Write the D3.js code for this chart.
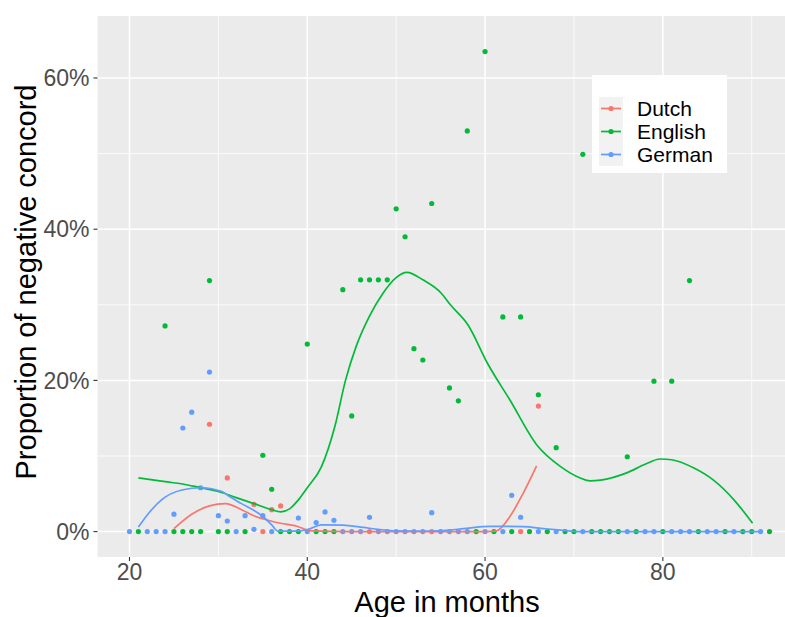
<!DOCTYPE html>
<html>
<head>
<meta charset="utf-8">
<script src="https://cdn.jsdelivr.net/npm/d3@7"></script>
<style>
  body { margin: 0; background: #fff; }
  text { font-family: "Liberation Sans", Arial, sans-serif; }
</style>
</head>
<body>
<div id="chart"></div>
<script>
// observed proportions (month, percent) - only the non-zero ones
const dutchPoints = [[29, 14.2], [31, 7.1], [34, 3.6], [36, 2.9], [37, 3.4], [66, 16.6]];
const englishPoints = [[24, 27.2], [29, 33.2], [35, 10.1], [36, 5.6], [40, 24.8], [44, 32.0], [45, 15.3],
    [46, 33.3], [47, 33.3], [48, 33.3], [49, 33.3], [50, 42.7], [51, 39.0], [52, 24.2], [53, 22.7],
    [54, 43.4], [56, 19.0], [57, 17.3], [58, 53.0], [60, 63.5], [62, 28.4], [64, 28.4], [66, 18.1],
    [68, 11.1], [71, 49.9], [76, 9.9], [79, 19.9], [81, 19.9], [83, 33.2]];
const germanPoints = [[25, 2.3], [26, 13.7], [27, 15.8], [28, 5.8], [29, 21.1], [30, 2.1], [31, 1.4],
    [33, 2.1], [34, 0.3], [35, 2.1], [39, 1.8], [41, 1.2], [42, 2.6], [43, 1.5], [47, 1.9], [54, 2.5],
    [63, 4.8], [64, 1.9]];

// months with 0% (the ones visible on top)
const dutchZeros = [35, 47, 54, 64];
const englishZeros = [21, 25, 26, 27, 28, 30, 31, 33, 37, 38, 39, 41, 42, 43, 59, 61, 63, 65, 67, 69, 70,
    72, 73, 74, 75, 77, 80, 84, 87, 89, 90, 92];
const germanZeros = [20, 22, 23, 24, 32, 36, 40, 44, 45, 46, 48, 49, 50, 51, 52, 53, 55, 56, 57, 58, 60,
    62, 66, 68, 71, 76, 78, 79, 81, 82, 83, 85, 86, 88, 91];

// loess smooth
const dutchSmooth = [[25, 0.4], [27, 2.3], [29, 3.4], [30.8, 3.7], [32.6, 2.9], [34, 2.1], [35.6, 1.5],
    [37, 1.1], [38.6, 0.8], [40.5, 0.1], [45, 0], [50, 0], [55, 0], [60, 0], [61.3, 0.1], [62.8, 2.0],
    [64.3, 5.1], [65.8, 8.7]];
const englishSmooth = [[21, 7.1], [24, 6.6], [26, 6.3], [28, 5.8], [30, 5.3], [32, 4.5], [34, 3.7],
    [36, 2.9], [37, 2.6], [38, 3.0], [39, 4.2], [40, 5.8], [41.6, 8.6], [43.1, 13.9], [44.3, 20],
    [45.5, 24.5], [47, 28.5], [48.5, 31.5], [50, 33.6], [51.2, 34.3], [53, 33.3], [55.1, 31.5], [56.1, 30],
    [58.1, 27.3], [60.3, 22.2], [62.8, 17.4], [65.8, 11.5], [68.5, 8.6], [70.7, 7.1], [71.8, 6.7],
    [73, 6.8], [76, 7.8], [78, 8.9], [79.7, 9.6], [81, 9.5], [83.5, 8.4], [85.7, 6.8], [88, 4.2], [90.1, 1.1]];
const germanSmooth = [[21, 0.6], [22, 2.2], [23.6, 4.2], [25.9, 5.5], [28.1, 5.8], [30.4, 5.3],
    [31.3, 4.6], [32.6, 3.7], [35, 2.0], [36, 0.9], [36.7, 0.05], [38.5, 0.05], [40.1, 0.3], [41.6, 0.9],
    [44, 0.85], [46.3, 0.55], [48, 0.3], [50.1, 0.1], [53.5, 0.05], [56, 0.2], [57.6, 0.4], [60.6, 0.7],
    [64.3, 0.65], [66.6, 0.4], [68.5, 0.2], [70.7, 0], [80, 0], [91, 0]];

const xTicks = [20, 40, 60, 80];
const xMinor = [30, 50, 70, 90];
const yTicks = [0, 20, 40, 60];
const yMinor = [10, 30, 50];

const languages = [
    {name: "Dutch", color: "#F8766D", points: dutchPoints, zeros: dutchZeros, smooth: dutchSmooth},
    {name: "English", color: "#00BA38", points: englishPoints, zeros: englishZeros, smooth: englishSmooth},
    {name: "German", color: "#619CFF", points: germanPoints, zeros: germanZeros, smooth: germanSmooth}
];

const width = 785, height = 617;
const panel = {left: 97.5, top: 16, right: 785, bottom: 557};

const x = d3.scaleLinear().domain([16.4, 95.6]).range([97.5, 801.5]);
const y = d3.scaleLinear().domain([-3.36, 68.2]).range([557, 16]);

const svg = d3.select("#chart").append("svg")
    .attr("width", width)
    .attr("height", height);

svg.append("rect")
    .attr("x", panel.left).attr("y", panel.top)
    .attr("width", panel.right - panel.left).attr("height", panel.bottom - panel.top)
    .attr("fill", "#EBEBEB");

const grid = svg.append("g");
grid.selectAll(".xminor").data(xMinor).enter().append("line")
    .attr("x1", d => x(d)).attr("x2", d => x(d))
    .attr("y1", panel.top).attr("y2", panel.bottom)
    .attr("stroke", "#fff").attr("stroke-width", 0.8);
grid.selectAll(".yminor").data(yMinor).enter().append("line")
    .attr("y1", d => y(d)).attr("y2", d => y(d))
    .attr("x1", panel.left).attr("x2", panel.right)
    .attr("stroke", "#fff").attr("stroke-width", 0.8);
grid.selectAll(".xmajor").data(xTicks).enter().append("line")
    .attr("x1", d => x(d)).attr("x2", d => x(d))
    .attr("y1", panel.top).attr("y2", panel.bottom)
    .attr("stroke", "#fff").attr("stroke-width", 1.5);
grid.selectAll(".ymajor").data(yTicks).enter().append("line")
    .attr("y1", d => y(d)).attr("y2", d => y(d))
    .attr("x1", panel.left).attr("x2", panel.right)
    .attr("stroke", "#fff").attr("stroke-width", 1.5);

// points
languages.forEach(function(lang) {
    const pts = lang.points.concat(lang.zeros.map(m => [m, 0]));
    svg.append("g").selectAll("circle").data(pts).enter().append("circle")
        .attr("cx", d => x(d[0]))
        .attr("cy", d => y(d[1]))
        .attr("r", 2.6)
        .attr("fill", lang.color);
});

// smooth lines
const line = d3.line()
    .x(d => x(d[0]))
    .y(d => y(d[1]))
    .curve(d3.curveMonotoneX);

languages.forEach(function(lang) {
    svg.append("path")
        .datum(lang.smooth)
        .attr("d", line)
        .attr("fill", "none")
        .attr("stroke", lang.color)
        .attr("stroke-width", 1.7);
});

// axes
const xAxis = svg.append("g");
xAxis.selectAll("line").data(xTicks).enter().append("line")
    .attr("x1", d => x(d)).attr("x2", d => x(d))
    .attr("y1", panel.bottom).attr("y2", panel.bottom + 4)
    .attr("stroke", "#333333").attr("stroke-width", 1.1);
xAxis.selectAll("text").data(xTicks).enter().append("text")
    .attr("x", d => x(d)).attr("y", 580)
    .attr("text-anchor", "middle")
    .attr("font-size", 23)
    .attr("fill", "#4D4D4D")
    .text(d => d);

const yAxis = svg.append("g");
yAxis.selectAll("line").data(yTicks).enter().append("line")
    .attr("y1", d => y(d)).attr("y2", d => y(d))
    .attr("x1", panel.left - 4).attr("x2", panel.left)
    .attr("stroke", "#333333").attr("stroke-width", 1.1);
yAxis.selectAll("text").data(yTicks).enter().append("text")
    .attr("x", 89.5).attr("y", d => y(d))
    .attr("dy", "0.36em")
    .attr("text-anchor", "end")
    .attr("font-size", 23)
    .attr("fill", "#4D4D4D")
    .text(d => d + "%");

svg.append("text")
    .attr("x", 447).attr("y", 612)
    .attr("text-anchor", "middle")
    .attr("font-size", 29)
    .attr("fill", "#000")
    .text("Age in months");

svg.append("text")
    .attr("transform", "translate(36,282) rotate(-90)")
    .attr("text-anchor", "middle")
    .attr("font-size", 29)
    .attr("fill", "#000")
    .text("Proportion of negative concord");

// legend
const legend = svg.append("g");
legend.append("rect")
    .attr("x", 592).attr("y", 75).attr("width", 135).attr("height", 98)
    .attr("fill", "#fff");

languages.forEach(function(lang, i) {
    const ky = 97 + i * 23;
    legend.append("rect")
        .attr("x", 599).attr("y", ky).attr("width", 24).attr("height", 23)
        .attr("fill", "#F2F2F2");
    legend.append("line")
        .attr("x1", 601).attr("x2", 621)
        .attr("y1", ky + 11.5).attr("y2", ky + 11.5)
        .attr("stroke", lang.color).attr("stroke-width", 1.7);
    legend.append("circle")
        .attr("cx", 611).attr("cy", ky + 11.5).attr("r", 2.6)
        .attr("fill", lang.color);
    legend.append("text")
        .attr("x", 637).attr("y", ky + 11.5)
        .attr("dy", "0.36em")
        .attr("font-size", 21)
        .attr("fill", "#000")
        .text(lang.name);
});
</script>
</body>
</html>
